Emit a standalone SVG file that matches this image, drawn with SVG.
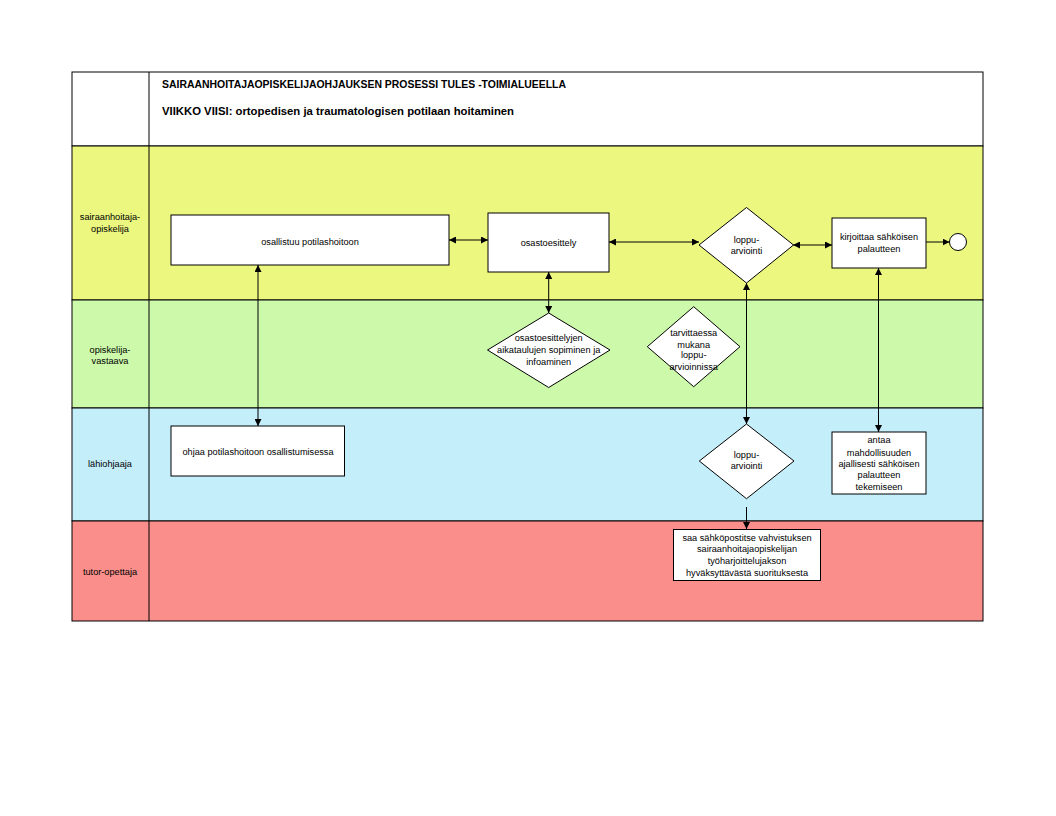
<svg xmlns="http://www.w3.org/2000/svg" width="1056" height="816" viewBox="0 0 1056 816">
<style>
.t{font-family:"Liberation Sans",Arial,sans-serif;font-size:9.2px;fill:#000;text-anchor:middle}
.h{font-family:"Liberation Sans",Arial,sans-serif;font-size:10.4px;font-weight:bold;fill:#000}
.n{fill:#fff;stroke:#000;stroke-width:1}
.l{stroke:#000;stroke-width:1}
.c{fill:none;stroke:#000;stroke-width:1}
</style>
<defs>
<marker id="a" viewBox="0 0 10 10" refX="10" refY="5" markerWidth="7" markerHeight="7" markerUnits="userSpaceOnUse" orient="auto-start-reverse">
<path d="M0,0 L10,5 L0,10 Z" fill="#000"/>
</marker>
</defs>
<rect x="0" y="0" width="1056" height="816" fill="#fff"/>
<g id="lanes">
<rect x="72" y="72" width="911" height="74" fill="#fff" class="l"/>
<rect x="72" y="146" width="911" height="154" fill="#ECF780" class="l"/>
<rect x="72" y="300" width="911" height="108" fill="#CCFAAA" class="l"/>
<rect x="72" y="408" width="911" height="113" fill="#C4EEFA" class="l"/>
<rect x="72" y="521" width="911" height="100" fill="#F98E8A" class="l"/>
<line x1="149" y1="72" x2="149" y2="621" class="l"/>
<text class="h" x="162" y="88" textLength="404" lengthAdjust="spacingAndGlyphs">SAIRAANHOITAJAOPISKELIJAOHJAUKSEN PROSESSI TULES -TOIMIALUEELLA</text>
<text class="h" x="162" y="115" textLength="352" lengthAdjust="spacingAndGlyphs">VIIKKO VIISI: ortopedisen ja traumatologisen potilaan hoitaminen</text>
<text class="t" x="110" y="220">sairaanhoitaja-</text>
<text class="t" x="110" y="232">opiskelija</text>
<text class="t" x="110" y="353">opiskelija-</text>
<text class="t" x="110" y="364">vastaava</text>
<text class="t" x="110" y="467">lähiohjaaja</text>
<text class="t" x="110" y="575">tutor-opettaja</text>
</g>
<g id="connectors">
<line x1="449" y1="240" x2="488" y2="240" class="c" marker-start="url(#a)" marker-end="url(#a)"/>
<line x1="609" y1="242" x2="699" y2="242" class="c" marker-start="url(#a)" marker-end="url(#a)"/>
<line x1="793" y1="245" x2="832" y2="245" class="c" marker-start="url(#a)" marker-end="url(#a)"/>
<line x1="926" y1="242" x2="949.5" y2="242" class="c" marker-end="url(#a)"/>
<line x1="258" y1="265" x2="258" y2="426" class="c" marker-start="url(#a)" marker-end="url(#a)"/>
<line x1="548.7" y1="272" x2="548.7" y2="313" class="c" marker-start="url(#a)" marker-end="url(#a)"/>
<line x1="746.5" y1="283" x2="746.5" y2="424" class="c" marker-start="url(#a)" marker-end="url(#a)"/>
<line x1="746.5" y1="507" x2="746.5" y2="529" class="c" marker-end="url(#a)"/>
<line x1="878.5" y1="268" x2="878.5" y2="432" class="c" marker-start="url(#a)" marker-end="url(#a)"/>
</g>
<g id="n1">
<rect x="171" y="215" width="278" height="50" class="n"/>
<text class="t" x="310" y="245">osallistuu potilashoitoon</text>
</g>
<g id="n2">
<rect x="488" y="213" width="121" height="59" class="n"/>
<text class="t" x="548.5" y="246">osastoesittely</text>
</g>
<g id="n3">
<polygon points="746.5,207.5 793.5,245 746.5,283 699,245" class="n"/>
<text class="t" x="746.5" y="243">loppu-</text>
<text class="t" x="746.5" y="254">arviointi</text>
</g>
<g id="n4">
<rect x="832" y="218" width="94" height="50" class="n"/>
<text class="t" x="879" y="239.5">kirjoittaa sähköisen</text>
<text class="t" x="879" y="252">palautteen</text>
</g>
<g id="n5">
<circle cx="958" cy="242" r="8.5" class="n"/>
</g>
<g id="n6">
<polygon points="548.7,313 610,350 548.7,387.5 487.5,350" class="n"/>
<text class="t" x="548.7" y="341">osastoesittelyjen</text>
<text class="t" x="548.7" y="353">aikataulujen sopiminen ja</text>
<text class="t" x="548.7" y="365">infoaminen</text>
</g>
<g id="n7">
<polygon points="693.7,306.7 740,346.7 693.7,386.7 647.3,346.7" class="n"/>
<text class="t" x="693.7" y="336">tarvittaessa</text>
<text class="t" x="693.7" y="347.5">mukana</text>
<text class="t" x="693.7" y="358">loppu-</text>
<text class="t" x="693.7" y="370">arvioinnissa</text>
</g>
<g id="n8">
<rect x="171" y="426" width="173.5" height="50" class="n"/>
<text class="t" x="258" y="454.5">ohjaa potilashoitoon osallistumisessa</text>
</g>
<g id="n9">
<polygon points="746.5,424 794,461 746.5,498.7 699.3,461" class="n"/>
<text class="t" x="746.5" y="457.5">loppu-</text>
<text class="t" x="746.5" y="469">arviointi</text>
</g>
<g id="n10">
<rect x="832" y="432" width="94" height="62" class="n"/>
<text class="t" x="879" y="443">antaa</text>
<text class="t" x="879" y="455.5">mahdollisuuden</text>
<text class="t" x="879" y="466.5">ajallisesti sähköisen</text>
<text class="t" x="879" y="478">palautteen</text>
<text class="t" x="879" y="489.5">tekemiseen</text>
</g>
<g id="n11">
<rect x="673.5" y="529.5" width="147" height="51" class="n"/>
<text class="t" x="747" y="541">saa sähköpostitse vahvistuksen</text>
<text class="t" x="747" y="552">sairaanhoitajaopiskelijan</text>
<text class="t" x="747" y="563.5">työharjoittelujakson</text>
<text class="t" x="747" y="576">hyväksyttävästä suorituksesta</text>
</g>
</svg>
